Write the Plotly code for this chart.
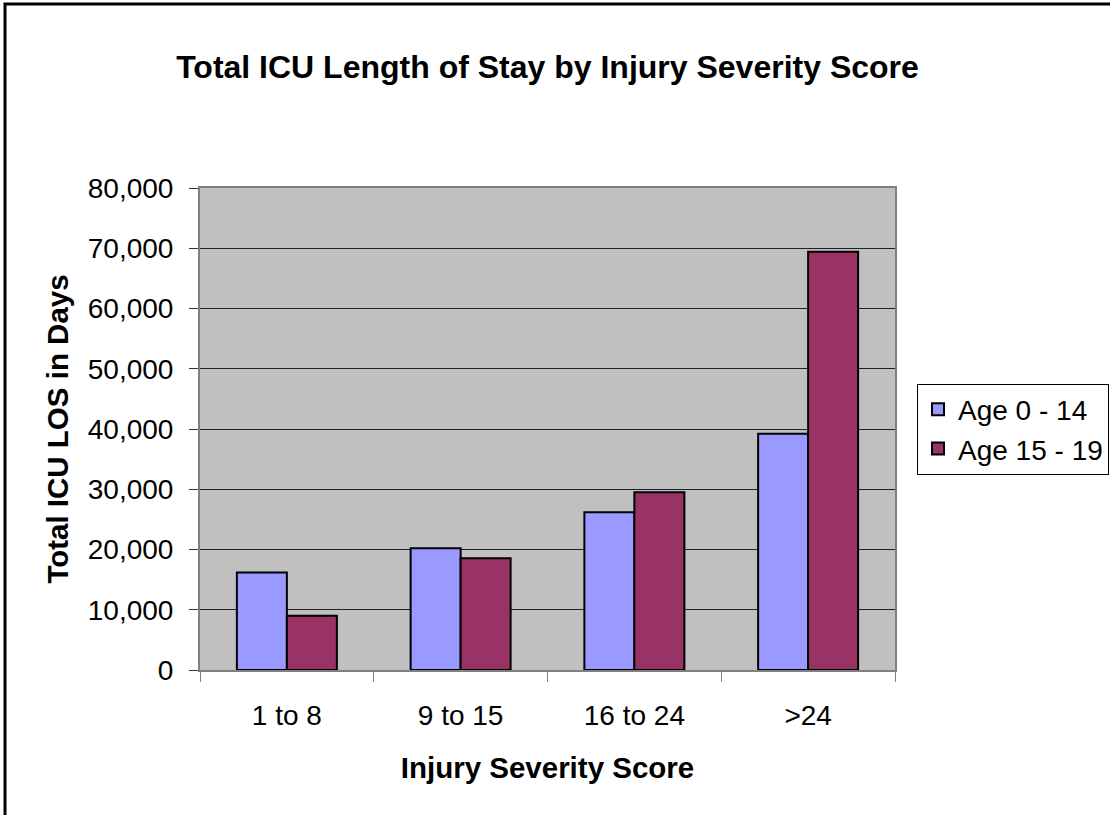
import plotly.graph_objects as go

categories = ["1 to 8", "9 to 15", "16 to 24", ">24"]
age_0_14 = [16200, 20200, 26200, 39200]
age_15_19 = [9000, 18550, 29500, 69400]
series_names = ["Age 0 - 14", "Age 15 - 19"]
y_ticks = [0, 10000, 20000, 30000, 40000, 50000, 60000, 70000, 80000]
y_tick_labels = ["0", "10,000", "20,000", "30,000", "40,000", "50,000", "60,000", "70,000", "80,000"]

FONT = "Liberation Sans, Arial, sans-serif"

fig = go.Figure()
fig.add_trace(go.Bar(x=categories, y=age_0_14, name=series_names[0],
                     marker=dict(color="#9999FF", line=dict(color="black", width=2))))
fig.add_trace(go.Bar(x=categories, y=age_15_19, name=series_names[1],
                     marker=dict(color="#993366", line=dict(color="black", width=2))))

W, H = 1110, 815
L, R, T, B = 200, 215, 188, 145
pw, ph = W - L - R, H - T - B

def px_x(p):
    return (p - L) / pw

def px_y(p):
    return (H - B - p) / ph

fig.update_layout(
    width=W, height=H,
    margin=dict(l=L, r=R, t=T, b=B, autoexpand=False),
    paper_bgcolor="white",
    plot_bgcolor="#C0C0C0",
    barmode="group",
    bargap=0.4245,
    bargroupgap=0,
    font=dict(family=FONT, size=28, color="black"),
    title=dict(text="<b>Total ICU Length of Stay by Injury Severity Score</b>",
               x=0.5, xref="paper", xanchor="center",
               y=1 - 67 / H, yref="container", yanchor="middle",
               font=dict(family=FONT, size=32, color="black")),
    legend=dict(x=px_x(917), xanchor="left", y=0.5, yanchor="middle",
                bordercolor="black", borderwidth=1, bgcolor="white",
                font=dict(family=FONT, size=28, color="black"),
                tracegroupgap=0),
    showlegend=True,
    xaxis=dict(
        title=dict(text="<b>Injury Severity Score</b>", standoff=28,
                   font=dict(family=FONT, size=29.5, color="black")),
        showline=True, linecolor="#808080", linewidth=2, mirror=True,
        ticks="outside", tickson="boundaries", ticklen=10, tickcolor="#808080", tickwidth=1,
        ticklabelstandoff=19,
        showgrid=False, automargin=False,
    ),
    yaxis=dict(
        title=dict(text="<b>Total ICU LOS in Days</b>", standoff=10,
                   font=dict(family=FONT, size=29.5, color="black")),
        range=[0, 80000],
        tickvals=y_ticks, ticktext=y_tick_labels,
        showline=True, linecolor="#808080", linewidth=2, mirror=True,
        ticks="outside", ticklen=9, tickcolor="#333333", tickwidth=1,
        ticklabelstandoff=10,
        showgrid=True, gridcolor="#222222", gridwidth=1,
        zeroline=False, automargin=False,
    ),
    shapes=[
        dict(type="rect", xref="paper", yref="paper",
             x0=px_x(5), x1=px_x(1125), y0=px_y(830), y1=px_y(4),
             line=dict(color="black", width=3), fillcolor="rgba(0,0,0,0)", layer="below"),
    ],
)

fig.write_html("out.html",
               config={"displayModeBar": False},
               post_script="document.body.style.margin='0';document.body.style.overflow='hidden';")
